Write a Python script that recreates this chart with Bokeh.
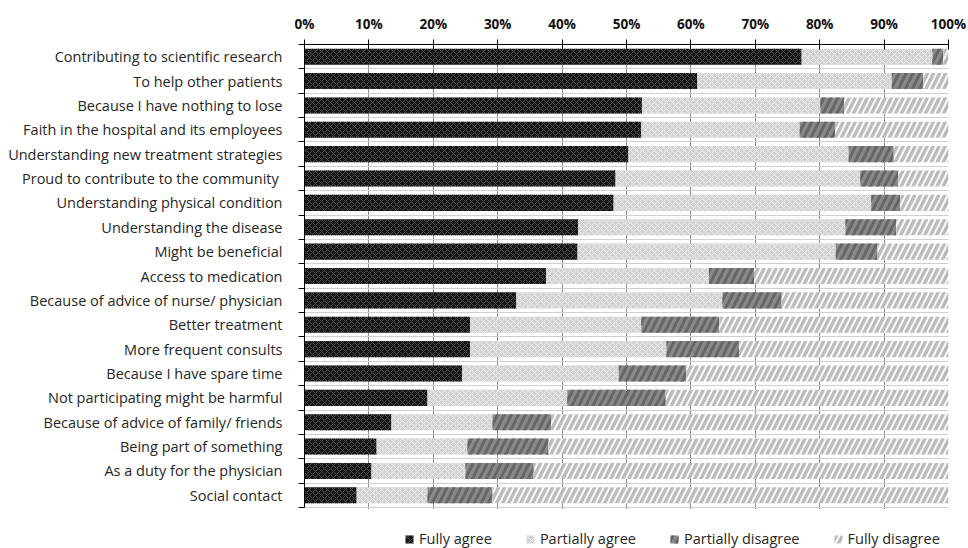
from bokeh.plotting import figure
from bokeh.models import (ColumnDataSource, FixedTicker, Range1d, Legend, LegendItem,
                          BoxAnnotation)
from bokeh.embed import file_html
from bokeh.resources import INLINE

categories = [
    "Contributing to scientific research",
    "To help other patients",
    "Because I have nothing to lose",
    "Faith in the hospital and its employees",
    "Understanding new treatment strategies",
    "Proud to contribute  to the community",
    "Understanding physical condition",
    "Understanding the disease",
    "Might be beneficial",
    "Access to medication",
    "Because of advice of nurse/ physician",
    "Better treatment",
    "More frequent consults",
    "Because I have spare time",
    "Not participating might be harmful",
    "Because of advice of family/ friends",
    "Being part of something",
    "As a duty for the physician",
    "Social contact",
]
fully_agree = [77.2, 61.0, 52.4, 52.3, 50.3, 48.3, 48.0, 42.5, 42.4, 37.5,
               32.9, 25.7, 25.7, 24.5, 19.1, 13.5, 11.2, 10.4, 8.1]
partially_agree = [20.3, 30.2, 27.7, 24.6, 34.2, 38.0, 40.0, 41.5, 40.1, 25.3,
                   32.0, 26.6, 30.5, 24.3, 21.7, 15.7, 14.1, 14.6, 11.0]
partially_disagree = [1.7, 4.9, 3.7, 5.5, 7.0, 5.9, 4.5, 7.9, 6.5, 7.0,
                      9.2, 12.1, 11.3, 10.5, 15.3, 9.1, 12.6, 10.6, 10.1]
fully_disagree = [0.8, 3.9, 16.2, 17.6, 8.5, 7.8, 7.5, 8.1, 11.0, 30.2,
                  25.9, 35.6, 32.5, 40.7, 43.9, 61.7, 62.1, 64.4, 70.8]
series_names = ["Fully agree", "Partially agree", "Partially disagree", "Fully disagree"]
x_ticks = [0, 10, 20, 30, 40, 50, 60, 70, 80, 90, 100]
x_tick_labels = ["0%", "10%", "20%", "30%", "40%", "50%", "60%", "70%", "80%", "90%", "100%"]

n = len(categories)
rows = list(range(n))
boundaries = [i - 0.5 for i in range(n + 1)]

# layout: category area 463 px tall, legend strip of 41 px under it (inside the frame)
CAT_PX = 463
LEGEND_PX = 41
px_per_row = CAT_PX / n
y_start = (n - 0.5) + LEGEND_PX / px_per_row

src = ColumnDataSource(dict(
    y=rows,
    fa=fully_agree,
    pa=partially_agree,
    pdis=partially_disagree,
    fd=fully_disagree,
))

FONT = "Open Sans"

p = figure(frame_width=644, frame_height=CAT_PX + LEGEND_PX,
           output_backend="svg", toolbar_location=None,
           x_range=Range1d(0, 100), y_range=Range1d(y_start, -0.5),
           x_axis_location="above",
           min_border_left=304, min_border_right=20,
           min_border_top=44, min_border_bottom=0)
p.outline_line_color = None
p.background_fill_color = "white"

renderers = p.hbar_stack(["fa", "pa", "pdis", "fd"], y="y", height=0.66, source=src,
                         fill_color=["#161616", "#d2d2d2", "#8a8a8a", "#ffffff"],
                         line_color=None,
                         hatch_pattern=["x", "x", "/", "/"],
                         hatch_color=["#4a4a4a", "#ededed", "#666666", "#bcbcbc"],
                         hatch_scale=[6, 6, 14, 12],
                         hatch_weight=[1, 1, 3, 3.5])

# top x axis
xax = p.xaxis[0]
xax.ticker = FixedTicker(ticks=x_ticks)
xax.major_label_overrides = dict(zip(x_ticks, x_tick_labels))
xax.major_tick_in = 5
xax.major_tick_out = 5
xax.minor_tick_line_color = None
xax.axis_line_color = "#000000"
xax.major_tick_line_color = "#000000"
xax.major_label_text_font = FONT
xax.major_label_text_font_style = "bold"
xax.major_label_text_font_size = "13.5px"
xax.major_label_text_color = "#111111"
xax.major_label_standoff = 7

# left y axis
yax = p.yaxis[0]
yax.ticker = FixedTicker(ticks=rows, minor_ticks=boundaries)
yax.major_label_overrides = dict(zip(rows, categories))
yax.bounds = (-0.5, n - 0.5)
yax.major_tick_line_color = None
yax.major_tick_in = 0
yax.major_tick_out = 0
yax.minor_tick_in = 0
yax.minor_tick_out = 6
yax.minor_tick_line_color = "#000000"
yax.axis_line_color = "#000000"
yax.major_label_standoff = 16
yax.major_label_text_font = FONT
yax.major_label_text_font_size = "14.5px"
yax.major_label_text_color = "#262626"

# grids
p.xgrid.ticker = FixedTicker(ticks=x_ticks)
p.xgrid.grid_line_color = "#8c8c8c"
p.ygrid.ticker = FixedTicker(ticks=boundaries)
p.ygrid.grid_line_color = "#cfcfcf"

# blank strip under the categories (hides grid lines behind the legend)
p.add_layout(BoxAnnotation(top=n - 0.5 + 0.06, bottom=y_start, fill_color="white",
                           fill_alpha=1.0, line_color=None))

# legend in the strip
items = [LegendItem(label=name, renderers=[r]) for name, r in zip(series_names, renderers)]
lg = Legend(items=items, orientation="horizontal", location=(100, 0),
            spacing=33, label_standoff=5, glyph_width=10, glyph_height=10,
            label_height=14, padding=0, margin=0,
            border_line_color=None, background_fill_alpha=0,
            label_text_font=FONT, label_text_font_size="14.5px",
            label_text_color="#262626")
p.add_layout(lg)

open("out.html", "w").write(file_html(p, INLINE))
